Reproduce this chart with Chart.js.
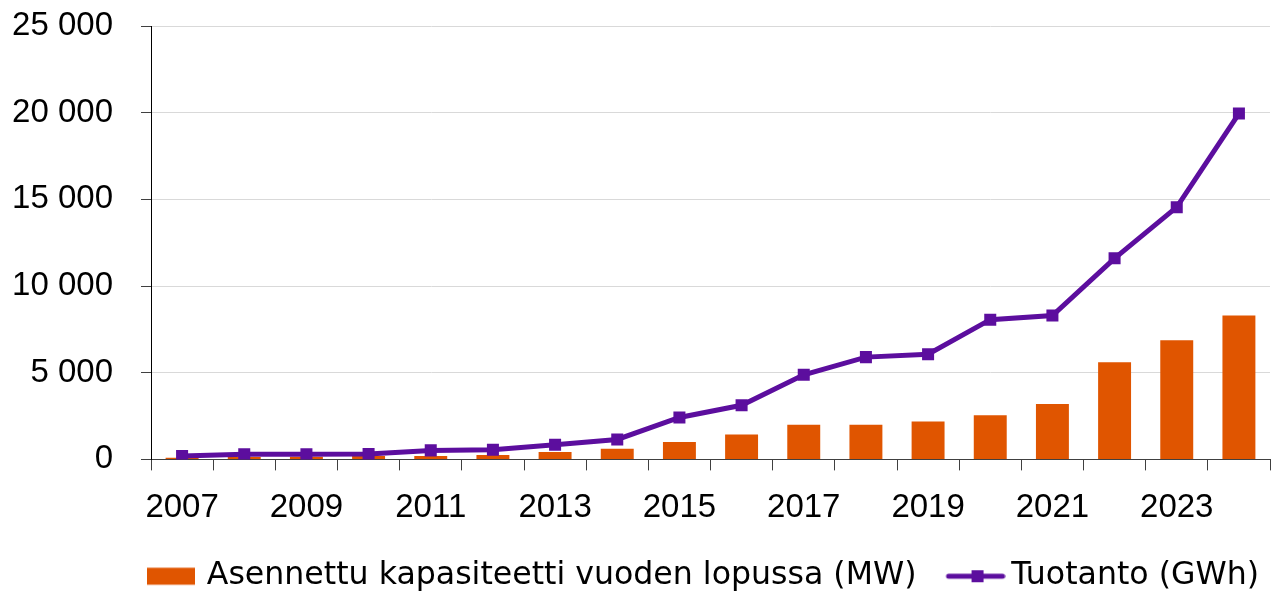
<!DOCTYPE html>
<html lang="fi">
<head>
<meta charset="utf-8">
<title>Tuulivoima</title>
<script src="https://cdn.jsdelivr.net/npm/chart.js@4/dist/chart.umd.min.js"></script>
<style>
    html, body { margin: 0; padding: 0; background: #fff; }
    #chart-container { position: relative; width: 1281px; height: 592px; }
</style>
</head>
<body>
<div id="chart-container">
    <canvas id="wind-chart"></canvas>
</div>
<script>
const years = ['2007', '2008', '2009', '2010', '2011', '2012', '2013', '2014', '2015',
    '2016', '2017', '2018', '2019', '2020', '2021', '2022', '2023', '2024'];
const capacity = [100, 140, 150, 190, 190, 260, 420, 610, 1000,
    1440, 2000, 2000, 2180, 2540, 3190, 5600, 6880, 8300];
const production = [200, 300, 300, 310, 520, 560, 850, 1150, 2420,
    3120, 4880, 5900, 6070, 8060, 8300, 11600, 14550, 19950];
const capacityLabel = 'Asennettu kapasiteetti vuoden lopussa (MW)';
const productionLabel = 'Tuotanto (GWh)';
const yTicks = [0, 5000, 10000, 15000, 20000, 25000];

const ORANGE = '#e05500';
const PURPLE = '#5c0e9e';

document.addEventListener('DOMContentLoaded', () => {
    drawChart();
});

// "25 000" style numbers
function formatNumber(v) {
    return String(v).replace(/\B(?=(\d{3})+(?!\d))/g, ' ');
}

// legend symbols as small canvases (Excel style: box and line+marker)
function makeBarSymbol() {
    const c = document.createElement('canvas');
    c.width = 80;
    c.height = 20;
    const ctx = c.getContext('2d');
    ctx.fillStyle = ORANGE;
    ctx.fillRect(26, 1.5, 48, 17);
    return c;
}

function makeLineSymbol() {
    const c = document.createElement('canvas');
    c.width = 80;
    c.height = 20;
    const ctx = c.getContext('2d');
    ctx.strokeStyle = PURPLE;
    ctx.lineWidth = 5;
    ctx.lineCap = 'round';
    ctx.beginPath();
    ctx.moveTo(23, 10);
    ctx.lineTo(77, 10);
    ctx.stroke();
    ctx.fillStyle = PURPLE;
    ctx.fillRect(52 - 6, 10 - 6, 12, 12);
    return c;
}

// moves the legend row so that it starts where the original one does
const legendShift = {
    id: 'legendShift',
    afterLayout(chart) {
        const lg = chart.legend;
        if (!lg || !lg.lineWidths) return;
        const p = lg.options.labels.padding;
        const start = (lg.left + p + lg.right - lg.lineWidths[0]) / 2;
        const dx = 131 - start;
        lg.left += dx;
        lg.right += dx;
    }
};

function drawChart() {
    const canvas = document.getElementById('wind-chart');
    const symbols = [makeBarSymbol(), makeLineSymbol()];

    new Chart(canvas, {
        type: 'bar',
        data: {
            labels: years,
            datasets: [{
                type: 'bar',
                label: capacityLabel,
                data: capacity,
                backgroundColor: ORANGE,
                borderWidth: 0,
                barPercentage: 0.53,
                categoryPercentage: 1,
                order: 1
            }, {
                type: 'line',
                label: productionLabel,
                data: production,
                borderColor: PURPLE,
                backgroundColor: PURPLE,
                borderWidth: 5,
                tension: 0,
                pointStyle: 'rect',
                pointRadius: 8.5,
                pointBorderWidth: 0,
                pointBackgroundColor: PURPLE,
                order: 0
            }]
        },
        options: {
            responsive: true,
            maintainAspectRatio: false,
            animation: false,
            layout: {
                padding: { left: 0, right: 11, top: 26, bottom: -10 }
            },
            plugins: {
                tooltip: { enabled: false },
                legend: {
                    position: 'bottom',
                    labels: {
                        usePointStyle: true,
                        pointStyleWidth: 60,
                        padding: 19,
                        color: '#000',
                        font: { family: 'DejaVu Sans', size: 31.6 },
                        generateLabels(chart) {
                            const items = Chart.defaults.plugins.legend.labels.generateLabels(chart);
                            items.sort((a, b) => a.datasetIndex - b.datasetIndex);
                            items.forEach(item => {
                                item.pointStyle = symbols[item.datasetIndex];
                                item.rotation = 0;
                            });
                            return items;
                        }
                    }
                }
            },
            scales: {
                x: {
                    offset: true,
                    grid: {
                        offset: true,
                        drawOnChartArea: false,
                        drawTicks: true,
                        tickLength: 11,
                        tickColor: '#404040'
                    },
                    border: { display: true, color: '#404040', width: 1 },
                    ticks: {
                        autoSkip: false,
                        maxRotation: 0,
                        padding: 18,
                        color: '#000',
                        font: { family: 'Liberation Sans', size: 33 },
                        callback: (v, i) => (i % 2 === 0 ? years[i] : '')
                    },
                    afterFit(scale) {
                        scale.height = 82;
                    }
                },
                y: {
                    min: 0,
                    max: 25000,
                    afterBuildTicks(scale) {
                        scale.ticks = yTicks.map(v => ({ value: v }));
                    },
                    grid: {
                        color: '#d9d9d9',
                        lineWidth: 1,
                        drawTicks: true,
                        tickLength: 10,
                        tickColor: '#404040'
                    },
                    border: { display: true, color: '#000', width: 1 },
                    ticks: {
                        padding: 28,
                        color: '#000',
                        font: { family: 'Liberation Sans', size: 33 },
                        callback: v => formatNumber(v)
                    },
                    afterFit(scale) {
                        scale.width = 151;
                        // label padding should not push the plot down
                        scale.paddingTop = 0;
                        scale.paddingBottom = 0;
                    }
                }
            }
        },
        plugins: [legendShift]
    });
}
</script>
</body>
</html>
